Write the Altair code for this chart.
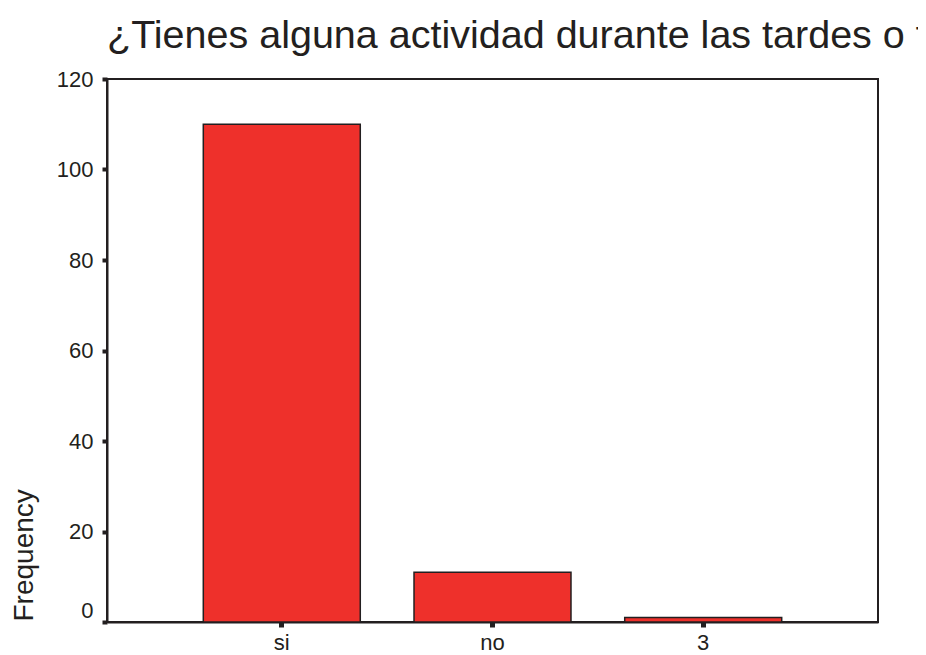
import altair as alt
import pandas as pd

categories = ["si", "no", "3"]
frequencies = [110, 11, 1]
y_ticks = [0, 20, 40, 60, 80, 100, 120]
title_text = "¿Tienes alguna actividad durante las tardes o f"
y_title = "Frequency"

df = pd.DataFrame({"cat": categories, "freq": frequencies})

INK = "#231F20"
FONT = "Liberation Sans"

chart = (
    alt.Chart(df)
    .mark_bar(color="#EE302B", stroke=INK, strokeWidth=1.5)
    .encode(
        x=alt.X(
            "cat:N",
            sort=categories,
            scale=alt.Scale(paddingInner=0.255, paddingOuter=0.457),
            axis=alt.Axis(
                title=None,
                labelAngle=0,
                labelFontSize=22,
                labelFont=FONT,
                labelColor=INK,
                labelPadding=5,
                tickSize=5,
                tickWidth=5,
                tickColor=INK,
                domainColor=INK,
                domainWidth=2,
            ),
        ),
        y=alt.Y(
            "freq:Q",
            scale=alt.Scale(domain=[0, 120], nice=False),
            axis=alt.Axis(
                values=y_ticks,
                title=y_title,
                titleFont=FONT,
                titleFontSize=28,
                titleFontWeight="normal",
                titleColor=INK,
                titleAngle=270,
                titleAlign="left",
                titleBaseline="alphabetic",
                titleX=-75,
                titleY=542,
                labelFontSize=22,
                labelFont=FONT,
                labelColor=INK,
                labelPadding=9,
                labelBaseline={"condition": {"test": "datum.value === 0", "value": "bottom"}, "value": "middle"},
                tickSize=5,
                tickWidth=4,
                tickColor=INK,
                domainColor=INK,
                domainWidth=2,
                grid=False,
            ),
        ),
    )
    .properties(
        width=771,
        height=543,
        padding={"left": 99, "top": 71, "right": 40, "bottom": 32},
        autosize=alt.AutoSizeParams(type="none"),
        title=alt.TitleParams(
            text=title_text,
            anchor="start",
            frame="group",
            font=FONT,
            fontSize=39.5,
            fontWeight="normal",
            color=INK,
            offset=12,
        ),
    )
    .configure_view(stroke=INK, strokeWidth=2)
)

chart.save("out.html", embed_options={"renderer": "svg", "actions": False})
